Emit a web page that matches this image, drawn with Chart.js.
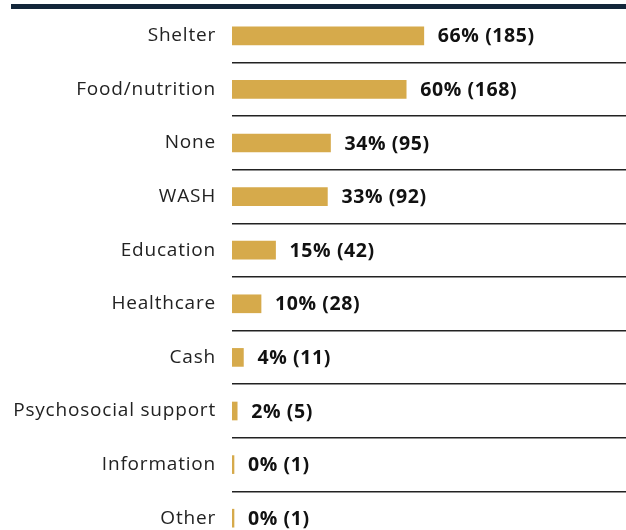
<!DOCTYPE html>
<html>
<head>
<meta charset="utf-8">
<script src="https://cdn.jsdelivr.net/npm/chart.js@4"></script>
<style>
  body { margin: 0; overflow: hidden; background: #fff; }
  #wrap { position: relative; width: 626px; height: 545px; }
  #topline { position: absolute; left: 11px; right: 0; top: 4px; height: 5px; background: #13263a; }
</style>
</head>
<body>
<div id="wrap">
  <canvas id="myChart"></canvas>
  <div id="topline"></div>
</div>
<script>
const categories = ['Shelter', 'Food/nutrition', 'None', 'WASH', 'Education', 'Healthcare', 'Cash', 'Psychosocial support', 'Information', 'Other'];
const counts = [185, 168, 95, 92, 42, 28, 11, 5, 1, 1];
const percents = [66, 60, 34, 33, 15, 10, 4, 2, 0, 0];

// wider letters, closer to the original typeface
const spacing = {
  id: 'spacing',
  beforeDraw(chart) {
    chart.ctx.letterSpacing = '0.8px';
  }
};

// value text next to each bar
const valueLabels = {
  id: 'valueLabels',
  afterDatasetsDraw(chart) {
    const ctx = chart.ctx;
    const meta = chart.getDatasetMeta(0);
    ctx.save();
    ctx.letterSpacing = '0.6px';
    ctx.font = 'bold 19.5px "Open Sans"';
    ctx.fillStyle = '#111';
    ctx.textBaseline = 'middle';
    ctx.textAlign = 'left';
    meta.data.forEach((bar, i) => {
      ctx.fillText(percents[i] + '% (' + counts[i] + ')', bar.x + 14, bar.y + 1);
    });
    ctx.restore();
  }
};

const config = {
  type: 'bar',
  data: {
    labels: categories,
    datasets: [{
      data: counts,
      backgroundColor: '#d6aa4b',
      barThickness: 18,
      minBarLength: 2
    }]
  },
  options: {
    indexAxis: 'y',
    responsive: true,
    maintainAspectRatio: false,
    animation: false,
    events: [],
    layout: { padding: { top: 9, bottom: 0, left: 0, right: 0 } },
    plugins: {
      legend: { display: false },
      tooltip: { enabled: false }
    },
    scales: {
      x: {
        display: false,
        min: 0,
        max: 380
      },
      y: {
        afterFit: (scale) => {
          scale.width = 232;
          scale.paddingTop = 0;
          scale.paddingBottom = 0;
        },
        border: { display: false },
        grid: {
          offset: true,
          drawTicks: false,
          lineWidth: 1.5,
          color: (c) => c.index === 0 ? 'rgba(0,0,0,0)' : '#222'
        },
        ticks: {
          padding: 16,
          color: '#222',
          font: { family: '"Open Sans"', size: 19 }
        }
      }
    }
  },
  plugins: [spacing, valueLabels]
};

new Chart(document.getElementById('myChart'), config);
</script>
</body>
</html>
